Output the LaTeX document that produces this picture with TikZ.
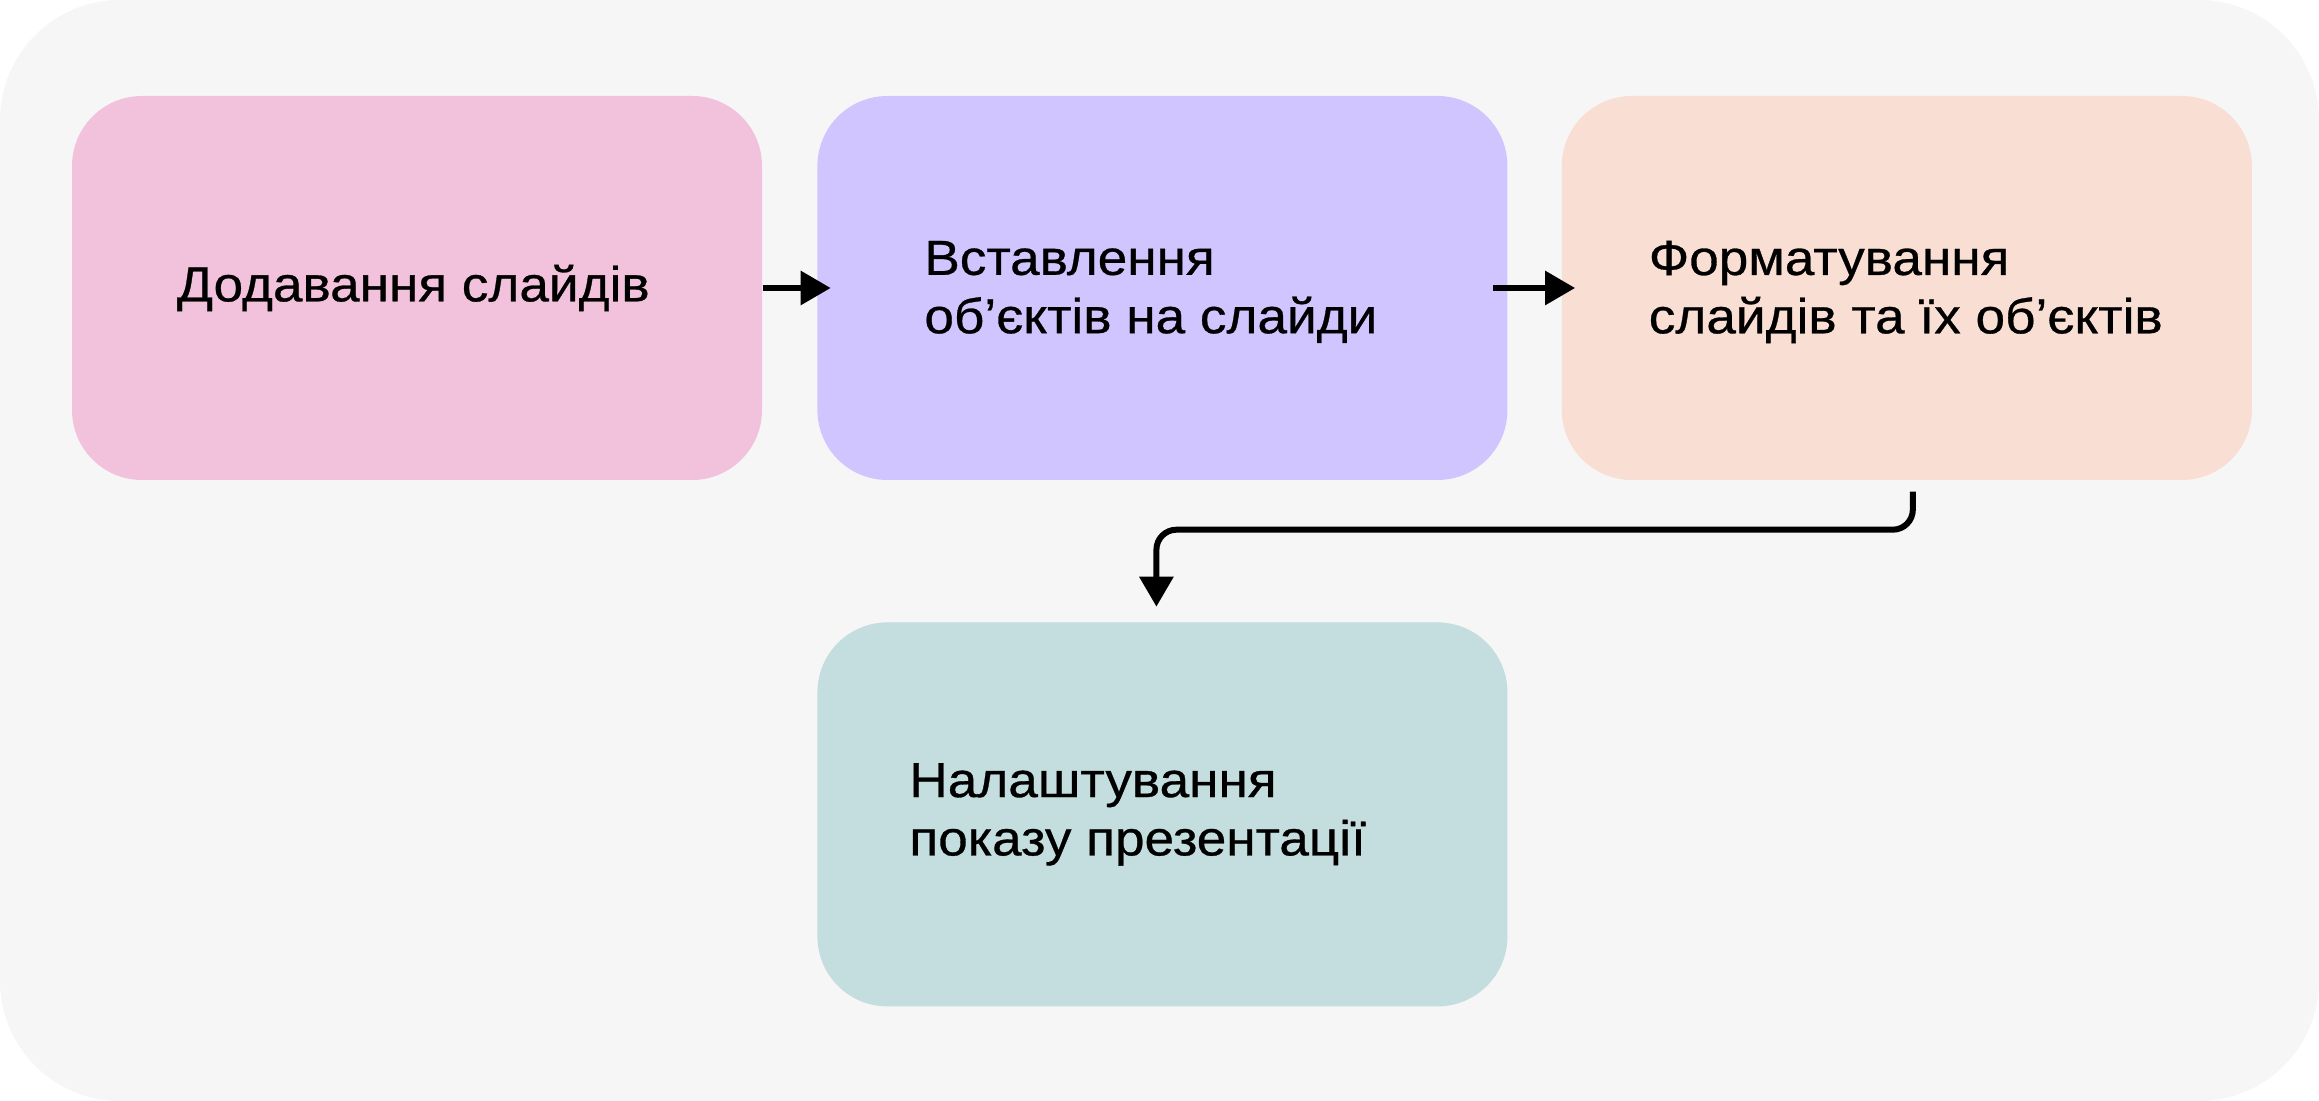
\documentclass[tikz,border=0pt]{standalone}
\usepackage{fontspec}
\setmainfont[FakeStretch=1.08,FakeBold=0.6]{Liberation Sans}
\usetikzlibrary{arrows.meta,positioning}
\definecolor{bgcol}{HTML}{F6F6F6}
\definecolor{pinkcol}{HTML}{F2C2DC}
\definecolor{lilaccol}{HTML}{D0C5FF}
\definecolor{peachcol}{HTML}{F9DED3}
\definecolor{tealcol}{HTML}{C4DDDE}

\begin{document}
\begin{tikzpicture}[
  stepbox/.style={rectangle, rounded corners=0.7cm, minimum width=6.9cm, minimum height=3.84cm, inner sep=0pt},
  steptext/.style={anchor=west, align=left, inner sep=0pt, font=\fontsize{14pt}{16.6pt}\selectfont},
  flow/.style={draw, line width=0.06cm, -{Triangle[length=0.3cm, width=0.33cm]}},
  node distance=0.54cm
]
\fill[bgcol, rounded corners=1.2cm] (0,0) rectangle (23.19,-11.01);
\useasboundingbox (0,0) rectangle (23.19,-11.01);

\node[stepbox, fill=pinkcol] (add) at (4.17,-2.88) {};
\node[stepbox, fill=lilaccol, right=of add] (insert) {};
\node[stepbox, fill=peachcol, right=0.53cm of insert] (format) {};
\node[stepbox, fill=tealcol, below=1.41cm of insert] (show) {};

\node[steptext] (addtxt) at ([xshift=1.05cm]add.west) {Додавання слайдів};
\node[steptext] (inserttxt) at ([xshift=1.07cm,yshift=-0.04cm]insert.west) {Вставлення\\об’єктів на слайди};
\node[steptext] (formattxt) at ([xshift=0.87cm,yshift=-0.04cm]format.west) {Форматування\\слайдів та їх об’єктів};
\node[steptext] (showtxt) at ([xshift=0.92cm]show.west) {Налаштування\\показу презентації};

\draw[flow] (add.east) -- ([xshift=0.14cm]insert.west);
\draw[flow] ([xshift=-0.15cm]insert.east) -- ([xshift=0.14cm]format.west);
\draw[flow, rounded corners=0.2cm] ([xshift=0.06cm,yshift=-0.11cm]format.south)
  -- ++(0,-0.38) -| ([xshift=-0.06cm,yshift=0.15cm]show.north);
\end{tikzpicture}
\end{document}
